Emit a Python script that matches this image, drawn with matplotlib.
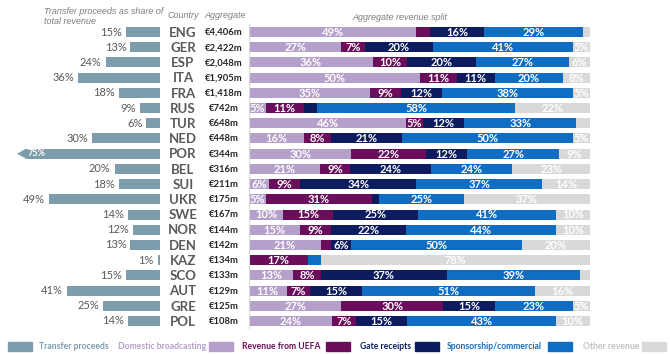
""" Transfer proceeds and aggregate revenue split by country """

import matplotlib
matplotlib.use("Agg")
import matplotlib.pyplot as plt
from matplotlib.patches import Rectangle
from matplotlib import transforms

countries = ["ENG", "GER", "ESP", "ITA", "FRA", "RUS", "TUR", "NED", "POR", "BEL",
             "SUI", "UKR", "SWE", "NOR", "DEN", "KAZ", "SCO", "AUT", "GRE", "POL"]
aggregate = ["€4,406m", "€2,422m", "€2,048m", "€1,905m", "€1,418m", "€742m", "€648m",
             "€448m", "€344m", "€316m", "€211m", "€175m", "€167m", "€144m", "€142m",
             "€134m", "€133m", "€129m", "€125m", "€108m"]
transfer = [15, 13, 24, 36, 18, 9, 6, 30, 75, 20, 18, 49, 14, 12, 13, 1, 15, 41, 25, 14]

domestic = [49, 27, 36, 50, 35, 5, 46, 16, 30, 21, 6, 5, 10, 15, 21, 0, 13, 11, 27, 24]
uefa = [4, 7, 10, 11, 9, 11, 5, 8, 22, 9, 9, 31, 15, 9, 3, 17, 8, 7, 30, 7]
gate = [16, 20, 20, 11, 12, 4, 12, 21, 12, 24, 34, 2, 25, 22, 6, 0, 37, 15, 15, 15]
sponsor = [29, 41, 27, 20, 38, 58, 33, 50, 27, 24, 37, 25, 41, 44, 50, 4, 39, 51, 23, 43]
other = [2, 5, 6, 8, 5, 22, 4, 5, 9, 23, 14, 37, 10, 10, 20, 78, 3, 16, 5, 10]

series = [domestic, uefa, gate, sponsor, other]
series_names = ["Domestic broadcasting", "Revenue from UEFA", "Gate receipts",
                "Sponsorship/commercial", "Other revenue"]
colors = ["#b4a0ca", "#6a0d5b", "#0c1c5e", "#0f6ec3", "#d9d9d9"]
transfer_color = "#7d9dad"
legend_text_colors = ["#b4a0ca", "#6a0d5b", "#0c1c5e", "#0f6ec3", "#c0c0c0"]

FONT = "Lato"
TRANSFER_CAP = 59  # longer bars are cut and drawn with an arrow head

fig = plt.figure(figsize=(6.7, 3.54), dpi=100)
W, H = 670.0, 354.0
top = 1 - 24.4 / H
bottom = 1 - 328.6 / H

# left: transfer proceeds
ax_t = fig.add_axes([0, bottom, 160 / W, top - bottom])
# right: stacked split
ax_s = fig.add_axes([249 / W, bottom, 341 / W, top - bottom])

n = len(countries)
ypos = list(range(n))
bh = 0.66

for ax in (ax_t, ax_s):
    ax.set_ylim(n - 0.5, -0.5)
    ax.set_xticks([])
    ax.set_yticks([])
    for s in ax.spines.values():
        s.set_visible(False)

ax_t.set_xlim(70.5, 0)
for i, v in enumerate(transfer):
    if v > TRANSFER_CAP:
        ax_t.barh(i, TRANSFER_CAP, height=bh, color=transfer_color)
        tip = TRANSFER_CAP + 4
        ax_t.fill([TRANSFER_CAP, tip, TRANSFER_CAP],
                  [i - bh / 2, i, i + bh / 2], color=transfer_color, lw=0)
        ax_t.text(TRANSFER_CAP - 0.5, i, f"{v}%", ha="left", va="center",
                  color="white", fontsize=6.5, fontweight="bold", family=FONT)
    else:
        ax_t.barh(i, v, height=bh, color=transfer_color)
        ax_t.text(v + 1.8, i, f"{v}%", ha="right", va="center",
                  color="#595959", fontsize=8, family=FONT)

# stacked revenue split, each row scaled to fill the width
totals = [sum(col) for col in zip(*series)]
ax_s.set_xlim(0, 100)
left = [0.0] * n
for vals, col in zip(series, colors):
    widths = [v / t * 100 for v, t in zip(vals, totals)]
    ax_s.barh(ypos, widths, left=left, height=bh, color=col, lw=0)
    for i in range(n):
        if vals[i] >= 5:
            ax_s.text(left[i] + widths[i] / 2, i + 0.03, f"{vals[i]}%", ha="center",
                      va="center", color="white", fontsize=8, fontweight="bold",
                      family=FONT)
    left = [a + b for a, b in zip(left, widths)]
ax_s.axvline(0, color="#d9d9d9", lw=0.8)

# country and aggregate columns
tr = transforms.blended_transform_factory(fig.transFigure, ax_s.transData)
for i in range(n):
    fig.text(183 / W, i + 0.05, countries[i], transform=tr, ha="center", va="center",
             fontsize=9.5, fontweight="bold", color="#595959", family=FONT)
    fig.text(224 / W, i + 0.03, aggregate[i], transform=tr, ha="center", va="center",
             fontsize=6.8, fontweight="bold", color="#262626", family=FONT)

# headers
hdr = dict(fontsize=6.5, style="italic", color="#7f7f7f", family="Liberation Sans")
fig.text(44 / W, 1 - 12 / H, "Transfer proceeds as share of", ha="left", va="center", **hdr)
fig.text(44 / W, 1 - 22 / H, "total revenue", ha="left", va="center", **hdr)
fig.text(183 / W, 1 - 16 / H, "Country", ha="center", va="center", **hdr)
fig.text(225 / W, 1 - 16 / H, "Aggregate", ha="center", va="center", **hdr)
fig.text(400 / W, 1 - 17 / H, "Aggregate revenue split", ha="center", va="center", **hdr)

# legend along the bottom
ly = 1 - 346.5 / H
ph = 9 / H
leg = dict(fontsize=6.2, fontweight="bold", family=FONT, va="center")
fig.patches.append(Rectangle((8 / W, ly - ph / 2), 24 / W, ph, transform=fig.transFigure,
                             color=transfer_color))
fig.text(39 / W, ly, "Transfer proceeds", color=transfer_color, ha="left", **leg)
text_x = [118, 242, 360, 447, 583]
patch_x = [209, 326, 415, 548, 642]
for name, col, tcol, tx, px in zip(series_names, colors, legend_text_colors, text_x, patch_x):
    fig.text(tx / W, ly, name, color=tcol, ha="left", **leg)
    fig.patches.append(Rectangle((px / W, ly - ph / 2), 24 / W, ph,
                                 transform=fig.transFigure, color=col))

fig.savefig("out.png", dpi=100)
